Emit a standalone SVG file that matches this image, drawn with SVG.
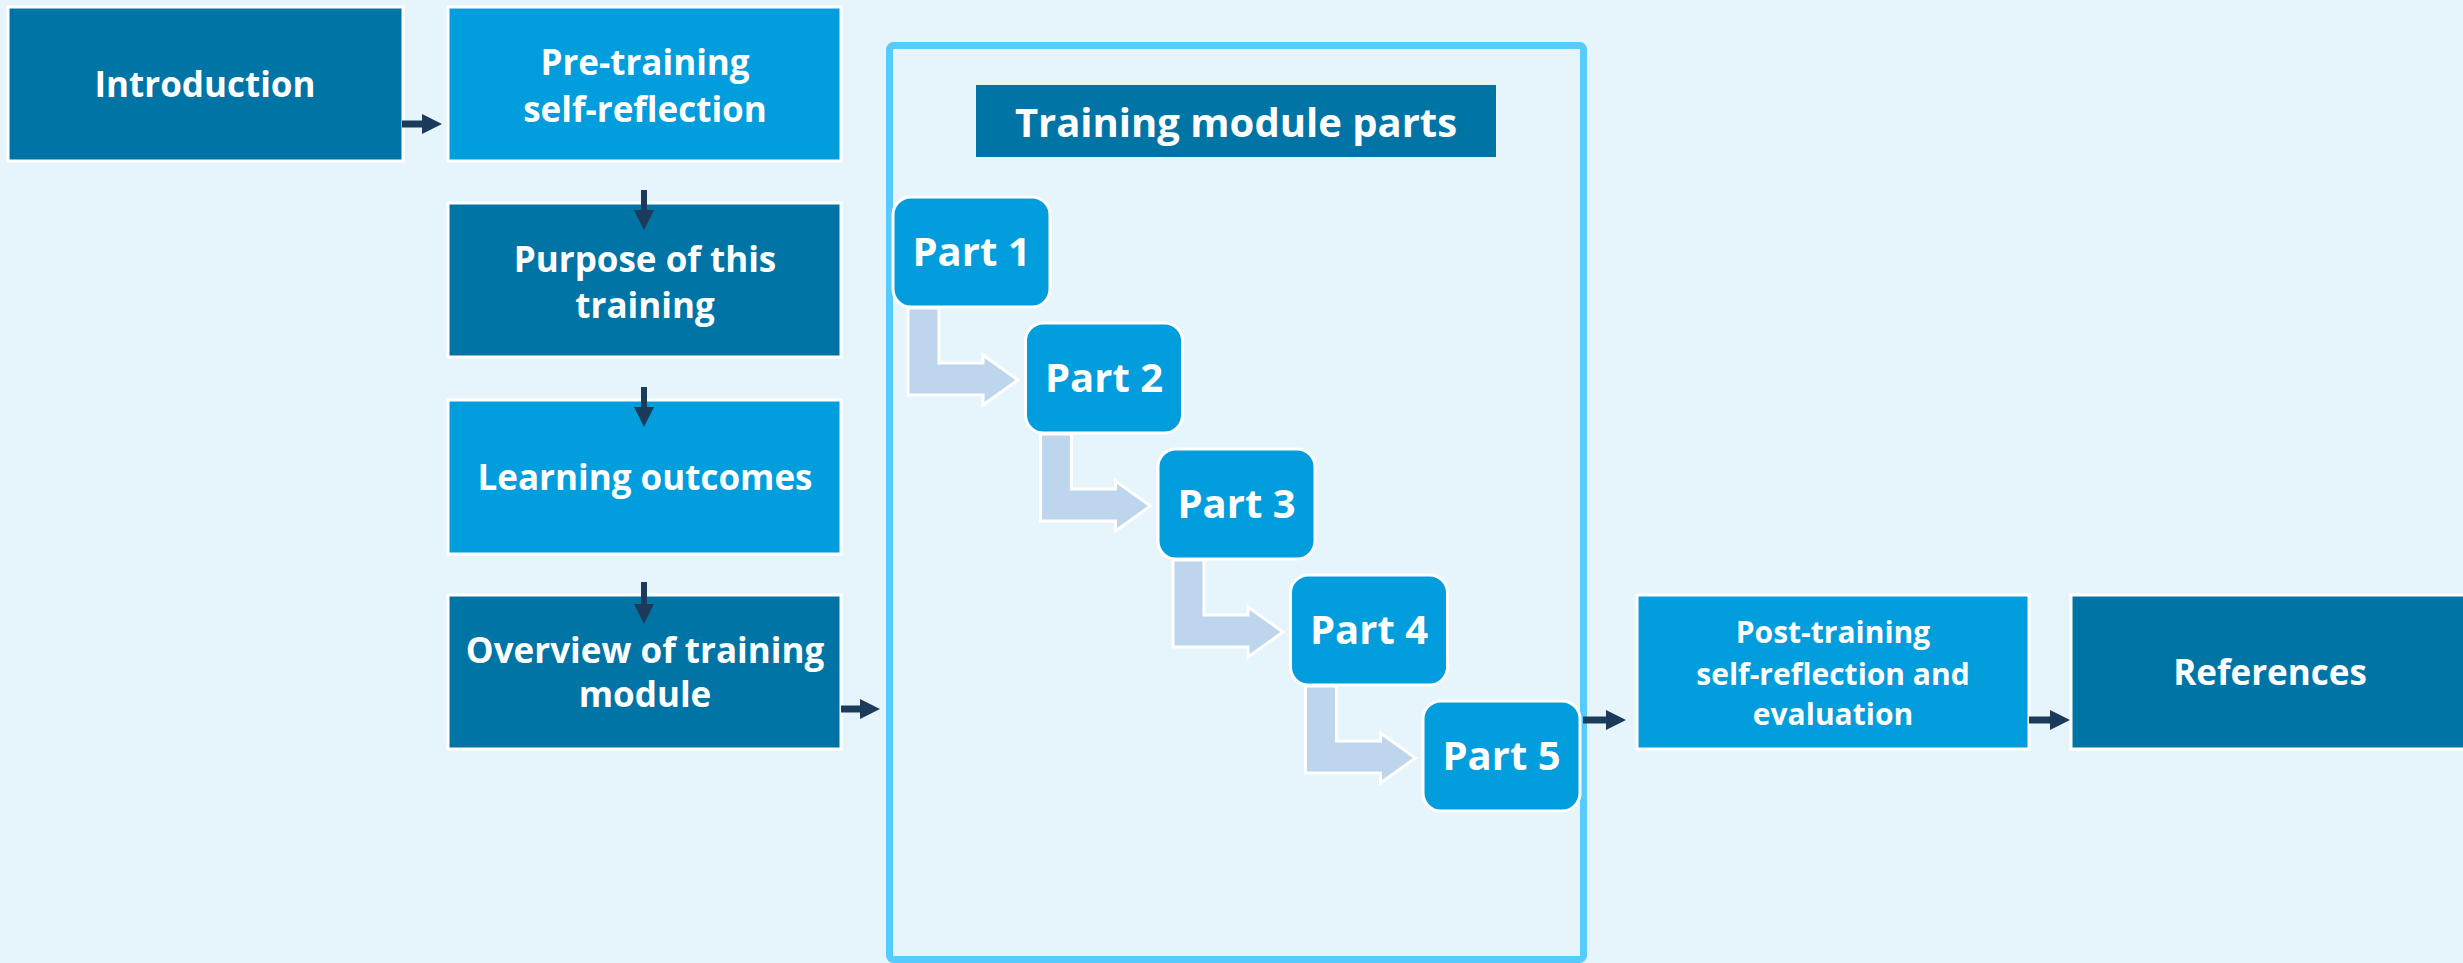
<svg xmlns="http://www.w3.org/2000/svg" width="2463" height="963" viewBox="0 0 2463 963">
<style>
.bg{fill:#E6F4FB}
.dark{fill:#0174A6;stroke:#FFFFFF;stroke-width:3}
.light{fill:#029DDC;stroke:#FFFFFF;stroke-width:3}
.part{fill:#029DDC;stroke:#FFFFFF;stroke-width:3}
.bent{fill:#BDD6EE;stroke:#FFFFFF;stroke-width:3}
.t{font-family:"Open Sans","Noto Sans","Liberation Sans",sans-serif;font-weight:700;fill:#FFFFFF;text-anchor:middle}
.t35{font-size:35px}
.t30{font-size:30px}
.t40{font-size:40px}
.conn{stroke:#1C3A5A;stroke-width:7;fill:none}
.connv{stroke:#1C3A5A;stroke-width:6;fill:none}
</style>
<defs>
<marker id="ah" markerUnits="userSpaceOnUse" markerWidth="20" markerHeight="20" refX="0" refY="10" orient="auto" viewBox="0 0 20 20">
<path d="M0,0 L20,10 L0,20 Z" fill="#1C3A5A"/>
</marker>
<path id="bentArrow" d="M15,111 L46,111 L46,166 L90,166 L90,158 L125,183 L90,208 L90,198 L15,198 Z"/>
</defs>
<rect class="bg" x="0" y="0" width="2463" height="963"/>

<g id="container">
<rect x="889.5" y="45.5" width="694" height="914" rx="4" fill="none" stroke="#55CBFF" stroke-width="7"/>
</g>

<g id="introduction">
<rect class="dark" x="8" y="7" width="395" height="154"/>
<text class="t t35" x="205" y="97">Introduction</text>
</g>
<g id="pretraining">
<rect class="light" x="448" y="7" width="393" height="154"/>
<text class="t t35" x="645" y="75">Pre-training</text>
<text class="t t35" x="645" y="122">self-reflection</text>
</g>
<g id="purpose">
<rect class="dark" x="448" y="203" width="393" height="154"/>
<text class="t t35" x="645" y="272">Purpose of this</text>
<text class="t t35" x="645" y="318">training</text>
</g>
<g id="learning">
<rect class="light" x="448" y="400" width="393" height="154"/>
<text class="t t35" x="645" y="490">Learning outcomes</text>
</g>
<g id="overview">
<rect class="dark" x="448" y="595" width="393" height="154"/>
<text class="t t35" x="645" y="663">Overview of training</text>
<text class="t t35" x="645" y="707">module</text>
</g>

<g id="header">
<rect x="976" y="85" width="520" height="72" fill="#0174A6"/>
<text class="t t40" x="1236" y="137">Training module parts</text>
</g>

<g id="part1" transform="translate(893,197)">
<use href="#bentArrow" class="bent"/>
<rect class="part" x="0" y="0" width="157" height="110" rx="18"/>
<text class="t t40" x="78.5" y="69">Part 1</text>
</g>
<g id="part2" transform="translate(1025.5,323)">
<use href="#bentArrow" class="bent"/>
<rect class="part" x="0" y="0" width="157" height="110" rx="18"/>
<text class="t t40" x="78.5" y="69">Part 2</text>
</g>
<g id="part3" transform="translate(1158,449)">
<use href="#bentArrow" class="bent"/>
<rect class="part" x="0" y="0" width="157" height="110" rx="18"/>
<text class="t t40" x="78.5" y="69">Part 3</text>
</g>
<g id="part4" transform="translate(1290.5,575)">
<use href="#bentArrow" class="bent"/>
<rect class="part" x="0" y="0" width="157" height="110" rx="18"/>
<text class="t t40" x="78.5" y="69">Part 4</text>
</g>
<g id="part5" transform="translate(1423,701)">
<rect class="part" x="0" y="0" width="157" height="110" rx="18"/>
<text class="t t40" x="78.5" y="69">Part 5</text>
</g>

<g id="posttraining">
<rect class="light" x="1637" y="595" width="392" height="154"/>
<text class="t t30" x="1833" y="643">Post-training</text>
<text class="t t30" x="1833" y="685">self-reflection and</text>
<text class="t t30" x="1833" y="725">evaluation</text>
</g>
<g id="references">
<rect class="dark" x="2071" y="595" width="400" height="154"/>
<text class="t t35" x="2270" y="685">References</text>
</g>

<g id="connectors">
<line class="conn" x1="402" y1="124" x2="422" y2="124" marker-end="url(#ah)"/>
<line class="connv" x1="644" y1="190" x2="644" y2="210" marker-end="url(#ah)"/>
<line class="connv" x1="644" y1="387" x2="644" y2="407" marker-end="url(#ah)"/>
<line class="connv" x1="644" y1="582" x2="644" y2="604" marker-end="url(#ah)"/>
<line class="conn" x1="841" y1="709" x2="860" y2="709" marker-end="url(#ah)"/>
<line class="conn" x1="1583" y1="720" x2="1606" y2="720" marker-end="url(#ah)"/>
<line class="conn" x1="2029" y1="720" x2="2050" y2="720" marker-end="url(#ah)"/>
</g>
</svg>
